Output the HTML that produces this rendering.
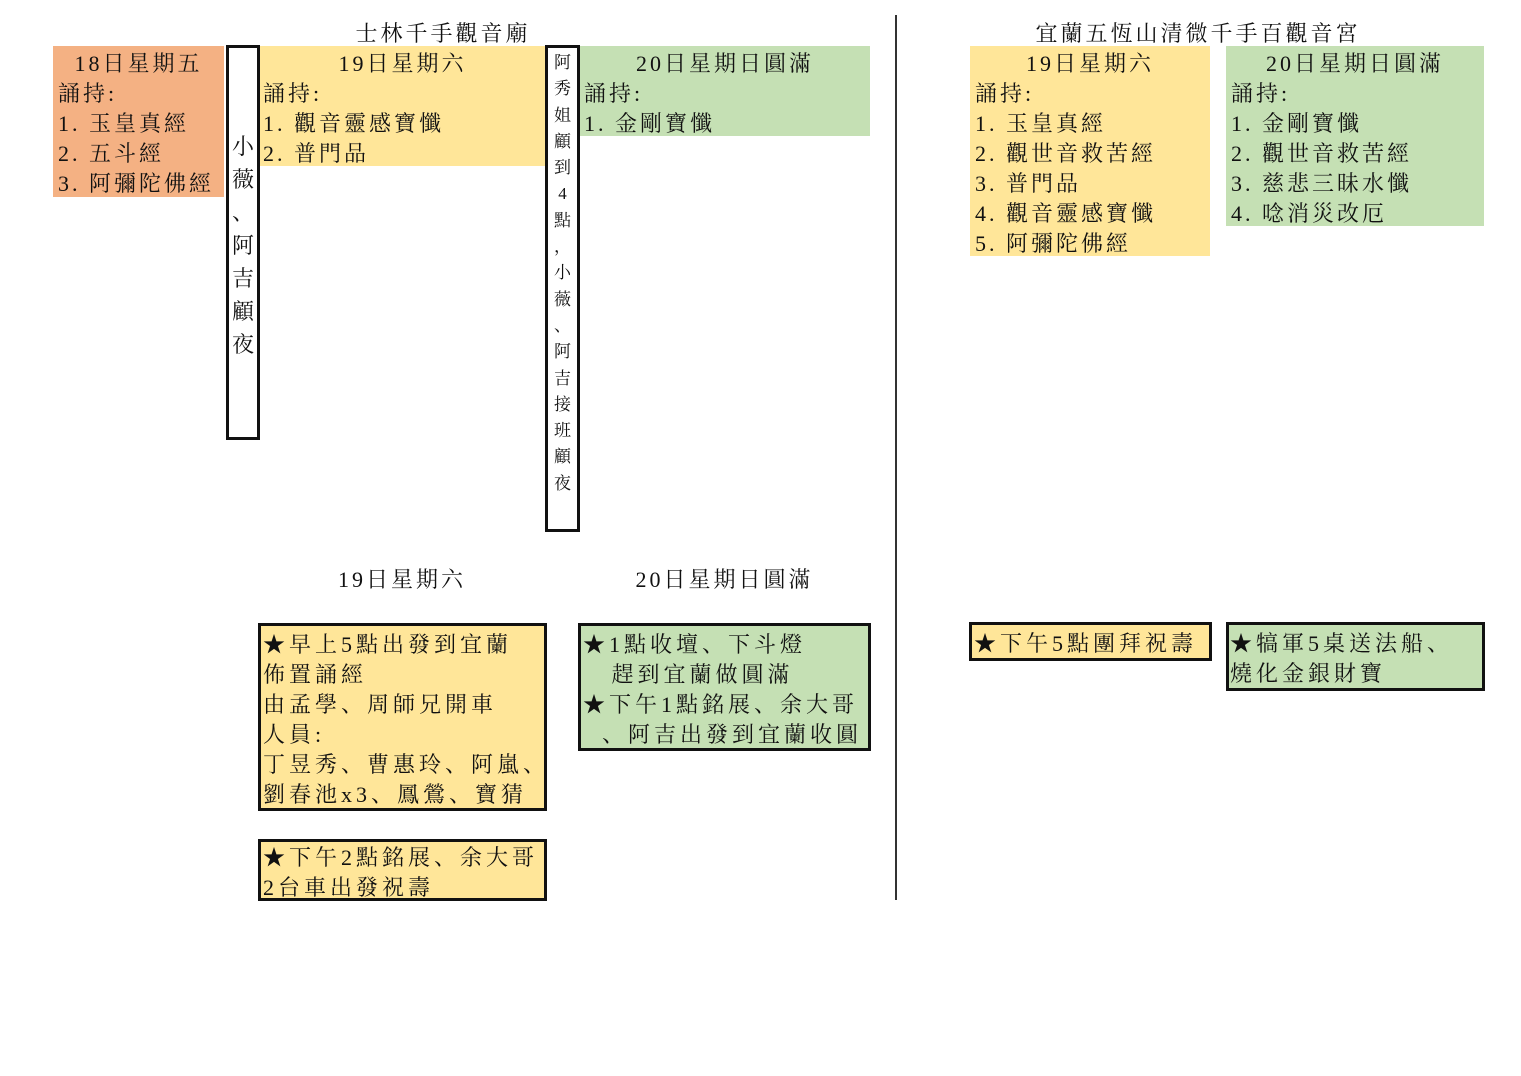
<!DOCTYPE html>
<html><head><meta charset="utf-8"><style>
body{margin:0;width:1521px;height:1076px;background:#fff;position:relative;overflow:hidden;font-family:"Liberation Serif","Noto Serif CJK SC",serif;color:#111}
.b{position:absolute;box-sizing:border-box}
.t{position:absolute;font-size:22px;line-height:30px;letter-spacing:3px;white-space:nowrap}
.c{text-align:center}
.o{background:#f4b183}.y{background:#ffe699}.g{background:#c5e0b4}
.k{border:3px solid #111}
.v{position:absolute;text-align:center;line-height:1;}
</style></head><body>
<div class="b" style="left:895px;top:15px;width:2px;height:885px;background:#333"></div>

<div class="t c" style="left:300px;top:19px;width:286px">士林千手觀音廟</div>
<div class="t c" style="left:970px;top:19px;width:456px">宜蘭五恆山清微千手百觀音宮</div>

<div class="b o" style="left:53px;top:46px;width:171px;height:151px"></div>
<div class="t c" style="left:53px;top:49px;width:171px">18日星期五</div>
<div class="t" style="left:58px;top:79px">誦持:<br>1. 玉皇真經<br>2. 五斗經<br>3. 阿彌陀佛經</div>

<div class="b k" style="left:226px;top:45px;width:34px;height:395px"></div>
<div class="v" style="left:226px;top:130px;width:34px;font-size:22px;line-height:33px">小<br>薇<br>、<br>阿<br>吉<br>顧<br>夜</div>

<div class="b y" style="left:260px;top:46px;width:285px;height:120px"></div>
<div class="t c" style="left:260px;top:49px;width:285px">19日星期六</div>
<div class="t" style="left:263px;top:79px">誦持:<br>1. 觀音靈感寶懺<br>2. 普門品</div>

<div class="b k" style="left:545px;top:45px;width:35px;height:487px"></div>
<div class="v" style="left:545px;top:50px;width:35px;font-size:17px;line-height:26.3px">阿<br>秀<br>姐<br>顧<br>到<br>4<br>點<br>，<br>小<br>薇<br>、<br>阿<br>吉<br>接<br>班<br>顧<br>夜</div>

<div class="b g" style="left:580px;top:46px;width:290px;height:90px"></div>
<div class="t c" style="left:580px;top:49px;width:290px">20日星期日圓滿</div>
<div class="t" style="left:584px;top:79px">誦持:<br>1. 金剛寶懺</div>

<div class="b y" style="left:970px;top:46px;width:240px;height:210px"></div>
<div class="t c" style="left:970px;top:49px;width:240px">19日星期六</div>
<div class="t" style="left:975px;top:79px">誦持:<br>1. 玉皇真經<br>2. 觀世音救苦經<br>3. 普門品<br>4. 觀音靈感寶懺<br>5. 阿彌陀佛經</div>

<div class="b g" style="left:1226px;top:46px;width:258px;height:180px"></div>
<div class="t c" style="left:1226px;top:49px;width:258px">20日星期日圓滿</div>
<div class="t" style="left:1231px;top:79px">誦持:<br>1. 金剛寶懺<br>2. 觀世音救苦經<br>3. 慈悲三昧水懺<br>4. 唸消災改厄</div>

<div class="t c" style="left:258px;top:565px;width:288px">19日星期六</div>
<div class="t c" style="left:579px;top:565px;width:291px">20日星期日圓滿</div>

<div class="b y k" style="left:258px;top:623px;width:289px;height:188px"></div>
<div class="t" style="left:263px;top:630px;letter-spacing:4px">★早上5點出發到宜蘭<br>佈置誦經<br>由孟學、周師兄開車<br>人員:<br>丁昱秀、曹惠玲、阿嵐、<br>劉春池x3、鳳鶯、寶猜</div>

<div class="b g k" style="left:578px;top:623px;width:293px;height:128px"></div>
<div class="t" style="left:583px;top:630px;letter-spacing:4px">★1點收壇、下斗燈<br>&nbsp;&nbsp;&nbsp;趕到宜蘭做圓滿<br>★下午1點銘展、余大哥<br>&nbsp;&nbsp;、阿吉出發到宜蘭收圓</div>

<div class="b y k" style="left:258px;top:839px;width:289px;height:62px"></div>
<div class="t" style="left:263px;top:843px;letter-spacing:4px">★下午2點銘展、余大哥<br>2台車出發祝壽</div>

<div class="b y k" style="left:969px;top:622px;width:243px;height:39px"></div>
<div class="t" style="left:974px;top:629px;letter-spacing:4px">★下午5點團拜祝壽</div>

<div class="b g k" style="left:1226px;top:622px;width:259px;height:69px"></div>
<div class="t" style="left:1230px;top:629px;letter-spacing:4px">★犒軍5桌送法船、<br>燒化金銀財寶</div>
</body></html>
